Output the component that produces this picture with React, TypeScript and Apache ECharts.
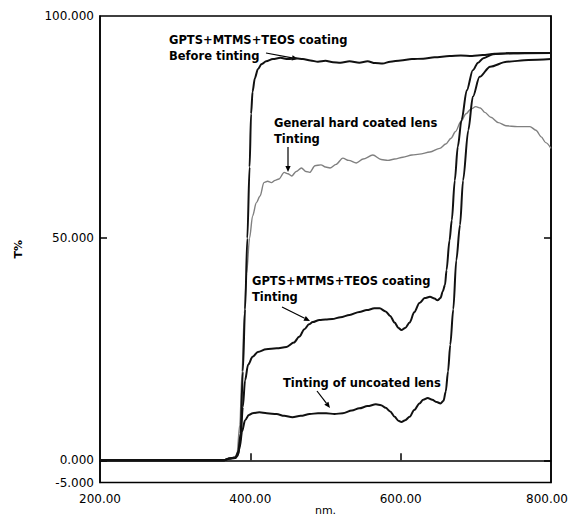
import React, { useEffect, useRef } from "react";
import * as echarts from "echarts";

// Wavelength (nm) / transmittance (T%) pairs
const beforeTinting: [number, number][] = [
  [200, 0], [365, 0], [372, 0.4], [380, 0.6], [384, 2], [387, 6], [390, 20], [393, 34],
  [396, 50], [399, 66], [401, 78], [403, 83], [406, 86], [410, 88], [415, 89.2], [421, 89.8],
  [430, 90.3], [440, 90.6], [450, 90.3], [461, 90.5], [470, 90.3], [480, 90.0], [490, 89.7],
  [500, 89.9], [510, 89.6], [520, 89.5], [532, 89.8], [545, 89.5], [556, 89.8], [566, 89.4],
  [576, 89.3], [586, 89.7], [600, 90.0], [615, 90.3], [630, 90.4], [645, 90.7], [665, 91.0],
  [680, 91.1], [695, 91.0], [709, 91.2], [725, 91.5], [750, 91.6], [780, 91.7], [800, 91.7],
];

const gptsTinting: [number, number][] = [
  [200, 0], [365, 0], [372, 0.4], [380, 0.5], [384, 1.5], [387, 5], [390, 12], [393, 18],
  [397, 21.5], [403, 23.3], [410, 24.4], [421, 25.0], [435, 25.2], [448, 25.5], [458, 26.5],
  [465, 27.8], [472, 29.5], [478, 30.6], [483, 31.1], [492, 31.6], [500, 31.7], [509, 31.8],
  [520, 32.2], [532, 32.7], [545, 33.4], [555, 33.8], [565, 34.2], [572, 34.2], [580, 33.5],
  [586, 32.5], [592, 31.0], [597, 29.8], [601, 29.3], [606, 29.8], [612, 31.0], [618, 33.3],
  [625, 35.4], [632, 36.5], [639, 36.8], [645, 36.4], [649, 36.0], [653, 36.5], [656, 38.0],
  [659, 39.5], [661, 42.8], [665, 49.5], [668, 54], [672, 63], [676, 70.6], [681, 76.6],
  [688, 83.3], [696, 87.8], [703, 89.5], [710, 90.5], [723, 91.4], [740, 91.6], [800, 91.7],
];

const uncoatedTinting: [number, number][] = [
  [200, 0], [365, 0], [372, 0.4], [380, 0.5], [383, 1], [386, 3], [389, 6.5], [393, 9],
  [398, 10.2], [403, 10.6], [412, 10.8], [422, 10.6], [435, 10.4], [445, 10.0], [456, 9.7],
  [467, 10.0], [479, 10.4], [490, 10.6], [501, 10.6], [512, 10.4], [523, 10.6], [535, 11.2],
  [545, 11.7], [556, 12.2], [567, 12.6], [574, 12.4], [580, 11.8], [586, 11.0], [592, 9.8],
  [597, 8.9], [601, 8.6], [606, 9.0], [612, 9.8], [618, 11.3], [625, 12.8], [630, 13.6],
  [636, 14.0], [642, 13.6], [648, 13.1], [653, 12.8], [657, 13.4], [660, 15.5], [663, 20],
  [666, 26], [670, 34], [674, 45], [679, 53], [683, 63], [690, 74.3], [696, 81.8],
  [705, 86.3], [719, 88.6], [741, 89.7], [770, 90.1], [800, 90.3],
];

const hardCoatedTinting: [number, number][] = [
  [200, 0], [360, 0], [372, 0.3], [382, 1], [386, 8], [389, 20], [392, 33], [395, 42],
  [399, 50], [403, 55], [408, 58], [413, 59.5], [418, 62.5], [423, 62.8], [428, 62.5],
  [433, 63.0], [438, 63.3], [445, 64.8], [450, 64.5], [455, 64.0], [461, 65.0], [468, 65.8],
  [474, 65.0], [479, 64.8], [486, 66.3], [494, 66.5], [500, 66.0], [506, 65.8], [514, 66.6],
  [523, 68.0], [531, 67.5], [541, 66.9], [550, 67.8], [563, 68.7], [574, 67.7], [583, 67.5],
  [592, 67.8], [603, 68.2], [615, 68.7], [625, 68.9], [639, 69.4], [652, 70.2], [660, 71.2],
  [667, 72.5], [673, 74.0], [680, 76.2], [687, 78.0], [693, 79.0], [700, 79.6], [706, 79.3],
  [712, 78.3], [720, 77.2], [730, 76.0], [740, 75.3], [755, 75.1], [772, 75.1], [780, 74.3],
  [787, 72.8], [793, 71.5], [800, 70.2],
];

const xLabelValues = [200, 400, 600, 800];
const xTickValues = [400, 600];
const yLabelValues = [-5, 0, 50, 100];
const yTickValues = [0, 50];

const FONT = '"DejaVu Sans", "Liberation Sans", Arial, sans-serif';

function arrow(x1: number, y1: number, x2: number, y2: number) {
  const head = 6;
  const hw = 2.6;
  const ang = Math.atan2(y2 - y1, x2 - x1);
  const bx = x2 - head * Math.cos(ang);
  const by = y2 - head * Math.sin(ang);
  const px = -Math.sin(ang) * hw;
  const py = Math.cos(ang) * hw;
  return [
    {
      type: "line",
      silent: true,
      shape: { x1, y1, x2: bx, y2: by },
      style: { stroke: "#000", lineWidth: 1.2 },
    },
    {
      type: "polygon",
      silent: true,
      shape: { points: [[x2, y2], [bx + px, by + py], [bx - px, by - py]] },
      style: { fill: "#000" },
    },
  ];
}

function label(text: string, x: number, y: number) {
  return {
    type: "text",
    silent: true,
    x,
    y,
    style: {
      text,
      fill: "#000",
      font: `bold 11.5px ${FONT}`,
      verticalAlign: "middle",
      align: "left",
    },
  };
}

export default function App() {
  const ref = useRef<HTMLDivElement>(null);

  useEffect(() => {
    if (!ref.current) return;
    const chart = echarts.init(ref.current, undefined, { renderer: "svg" });

    const axisLineStyle = { color: "#000", width: 1.5 };
    const labelStyle = { color: "#000", fontFamily: FONT, fontSize: 12 };
    const xMax = xLabelValues[xLabelValues.length - 1];

    chart.setOption({
      animation: false,
      backgroundColor: "#fff",
      grid: {
        left: 100,
        right: 18,
        top: 16,
        bottom: 35.5,
        containLabel: false,
        outerBoundsMode: "none",
        show: true,
        borderColor: "#000",
        borderWidth: 1.5,
        backgroundColor: "transparent",
      },
      xAxis: {
        type: "value",
        min: 200,
        max: 800,
        interval: 200,
        axisLine: { show: true, lineStyle: axisLineStyle },
        axisTick: {
          show: true,
          inside: true,
          length: 7,
          customValues: xTickValues,
          lineStyle: axisLineStyle,
        },
        axisLabel: {
          ...labelStyle,
          margin: 10,
          customValues: xLabelValues,
          formatter: (v: number) => (v === xMax ? `{r|${v.toFixed(2)}}` : v.toFixed(2)),
          rich: {
            r: { ...labelStyle, padding: [0, 8, 0, 0] },
          },
        },
        splitLine: { show: false },
      },
      yAxis: [
        {
          type: "value",
          min: -5,
          max: 100,
          interval: 5,
          name: "T%",
          nameLocation: "middle",
          nameRotate: 90,
          nameGap: 76,
          nameTextStyle: { ...labelStyle, fontWeight: "bold", fontSize: 11 },
          axisLine: { show: true, lineStyle: axisLineStyle },
          axisTick: {
            show: true,
            inside: true,
            length: 7,
            customValues: yTickValues,
            lineStyle: axisLineStyle,
          },
          axisLabel: {
            ...labelStyle,
            margin: 6,
            customValues: yLabelValues,
            formatter: (v: number) => v.toFixed(3),
          },
          splitLine: { show: false },
        },
        {
          type: "value",
          position: "right",
          min: -5,
          max: 100,
          interval: 5,
          axisLine: { show: true, lineStyle: axisLineStyle },
          axisTick: {
            show: true,
            inside: true,
            length: 7,
            customValues: yTickValues,
            lineStyle: axisLineStyle,
          },
          axisLabel: { show: false },
          splitLine: { show: false },
        },
      ],
      series: [
        {
          name: "General hard coated lens Tinting",
          type: "line",
          data: hardCoatedTinting,
          showSymbol: false,
          smooth: 0.3,
          smoothMonotone: "x",
          lineStyle: { color: "#808080", width: 1.4 },
          z: 2,
        },
        {
          name: "Tinting of uncoated lens",
          type: "line",
          data: uncoatedTinting,
          showSymbol: false,
          smooth: 0.3,
          smoothMonotone: "x",
          lineStyle: { color: "#111", width: 2 },
          z: 3,
        },
        {
          name: "GPTS+MTMS+TEOS coating Tinting",
          type: "line",
          data: gptsTinting,
          showSymbol: false,
          smooth: 0.3,
          smoothMonotone: "x",
          lineStyle: { color: "#111", width: 2 },
          z: 3,
        },
        {
          name: "GPTS+MTMS+TEOS coating Before tinting",
          type: "line",
          data: beforeTinting,
          showSymbol: false,
          smooth: 0.3,
          smoothMonotone: "x",
          lineStyle: { color: "#111", width: 2 },
          z: 3,
        },
      ],
      graphic: [
        {
          type: "text",
          silent: true,
          x: 325.5,
          y: 510,
          style: {
            text: "nm.",
            fill: "#000",
            font: `11px ${FONT}`,
            align: "center",
            verticalAlign: "middle",
          },
        },
        label("GPTS+MTMS+TEOS coating", 169, 40),
        label("Before tinting", 169, 56),
        ...arrow(266, 53, 298, 59),
        label("General hard coated lens", 274, 123),
        label("Tinting", 274, 139),
        ...arrow(288, 147, 288, 172),
        label("GPTS+MTMS+TEOS coating", 252, 281),
        label("Tinting", 252, 297),
        ...arrow(282, 307, 310, 321),
        label("Tinting of uncoated lens", 283, 383),
        ...arrow(317, 391, 330, 408),
      ],
    });

    return () => chart.dispose();
  }, []);

  return (
    <div
      ref={ref}
      style={{ position: "absolute", left: 0, top: 0, width: 569, height: 518, background: "#fff" }}
    />
  );
}
